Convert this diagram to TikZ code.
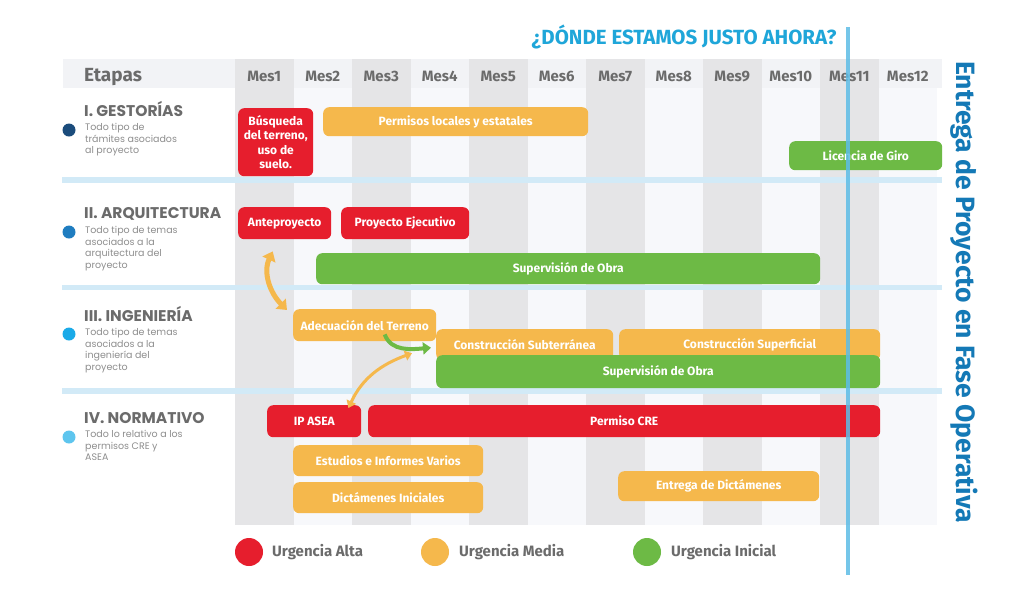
\documentclass[tikz,border=0pt]{standalone}
\usepackage{fontspec}
\setmainfont{Fira Sans}
\newfontfamily\headfont{Poppins}
\usetikzlibrary{arrows.meta}

\definecolor{urgAlta}{HTML}{E61E2D}
\definecolor{urgMedia}{HTML}{F5B84C}
\definecolor{urgInicial}{HTML}{6DBA45}
\definecolor{colGray}{HTML}{E5E5E7}
\definecolor{colLight}{HTML}{F7F8FB}
\definecolor{headBand}{HTML}{F2F3F6}
\definecolor{sepBlue}{HTML}{D2EAF7}
\definecolor{nowBlue}{HTML}{5DBDE6}
\definecolor{titleBlue}{HTML}{1FA6D9}
\definecolor{entregaBlue}{HTML}{1479B6}
\definecolor{txtGray}{HTML}{6B6B6B}
\definecolor{descGray}{HTML}{8E8E8E}
\definecolor{dotGest}{HTML}{1B4C7C}
\definecolor{dotArq}{HTML}{1F7DC0}
\definecolor{dotIng}{HTML}{1AAAE8}
\definecolor{dotNorm}{HTML}{5EC5EE}

\begin{document}
\begin{tikzpicture}[x=1pt, y=-1pt,
    bar/.style={anchor=north west, rounded corners=6pt, inner sep=0pt, text=white, align=center,
        font=\bfseries\fontsize{12}{14.5}\selectfont},
    mes/.style={anchor=base, inner sep=0pt, text=txtGray, font=\bfseries\fontsize{15}{15}\selectfont},
    head/.style={anchor=base west, inner sep=0pt, text=txtGray, font=\headfont\bfseries\fontsize{15.5}{16}\selectfont},
    desc/.style={anchor=north west, inner sep=0pt, align=left, text=descGray, font=\headfont\fontsize{9.5}{11.7}\selectfont},
    dotmark/.style={circle, inner sep=0pt, minimum size=13},
    legdot/.style={circle, inner sep=0pt, minimum size=28},
    legtext/.style={anchor=west, inner sep=0pt, text=txtGray, font=\bfseries\fontsize{15}{15}\selectfont}]
    \useasboundingbox[fill=white] (0,0) rectangle (1024,614);

    % background grid
    \fill[headBand] (63,59) rectangle (942,88);
    \foreach \i in {0,2,...,10}
        \fill[colGray] ({235+\i*58.5},59) rectangle ({235+(\i+1)*58.5},525);
    \foreach \i in {1,3,...,11}
        \fill[colLight] ({235+\i*58.5},88) rectangle ({235+(\i+1)*58.5},525);
    \fill[sepBlue] (62,177) rectangle (942,183);
    \fill[sepBlue] (62,285) rectangle (942,290);
    \fill[sepBlue] (62,388) rectangle (942,394);

    % headers
    \node[anchor=base west, inner sep=0pt, text=txtGray, font=\bfseries\fontsize{19}{19}\selectfont] (etapas) at (84,81) {Etapas};
    \foreach \i in {1,...,12}
        \node[mes] (mes\i) at ({235+(\i-0.5)*58.5},81) {Mes\i};
    \node[anchor=base, inner sep=0pt, text=titleBlue, font=\bfseries\fontsize{20.5}{20.5}\selectfont] (donde) at (684,44) {¿DÓNDE ESTAMOS JUSTO AHORA?};
    \node[rotate=-90, inner sep=0pt, text=entregaBlue, font=\bfseries\fontsize{26.5}{26.5}\selectfont] (entrega) at (964,292) {Entrega de Proyecto en Fase Operativa};

    % etapas
    \node[dotmark, fill=dotGest] (dgest) at (69,130) {};
    \node[head] (gest) at (84,116) {I. GESTORÍAS};
    \node[desc] (dscgest) at (85,123) {Todo tipo de\\trámites asociados\\al proyecto};
    \node[dotmark, fill=dotArq] (darq) at (69,232) {};
    \node[head] (arq) at (84,218) {II. ARQUITECTURA};
    \node[desc] (dscarq) at (85,226) {Todo tipo de temas\\asociados a la\\arquitectura del\\proyecto};
    \node[dotmark, fill=dotIng] (ding) at (69,334) {};
    \node[head] (ing) at (84,321) {III. INGENIERÍA};
    \node[desc] (dscing) at (85,328) {Todo tipo de temas\\asociados a la\\ingeniería del\\proyecto};
    \node[dotmark, fill=dotNorm] (dnorm) at (69,437) {};
    \node[head] (norm) at (84,423) {IV. NORMATIVO};
    \node[desc] (dscnorm) at (85,430) {Todo lo relativo a los\\permisos CRE y\\ASEA};

    % I. gestorias
    \node[bar, fill=urgAlta, minimum width=75, minimum height=68] (busqueda) at (238,108) {Búsqueda\\del terreno,\\uso de\\suelo.};
    \node[bar, fill=urgMedia, minimum width=265, minimum height=29] (permisos) at (323,107) {Permisos locales y estatales};
    \node[bar, fill=urgInicial, minimum width=153, minimum height=29] (licencia) at (789,141) {Licencia de Giro};

    % II. arquitectura
    \node[bar, fill=urgAlta, minimum width=93, minimum height=32] (anteproy) at (238,207) {Anteproyecto};
    \node[bar, fill=urgAlta, minimum width=128, minimum height=32] (proyejec) at (341,207) {Proyecto Ejecutivo};
    \node[bar, fill=urgInicial, minimum width=504, minimum height=31] (supervA) at (316,253) {Supervisión de Obra};

    % III. ingenieria
    \node[bar, fill=urgMedia, minimum width=143, minimum height=32] (adecuacion) at (293,309) {Adecuación del Terreno};
    \node[bar, fill=urgMedia, minimum width=177, minimum height=31] (subterranea) at (436,329) {Construcción Subterránea};
    \node[bar, fill=urgMedia, minimum width=261, minimum height=31] (superficial) at (619,329) {Construcción Superficial};
    \node[bar, fill=urgInicial, minimum width=444, minimum height=33] (supervB) at (436,355) {Supervisión de Obra};

    % IV. normativo
    \node[bar, fill=urgAlta, minimum width=94, minimum height=32] (ipasea) at (267,405) {IP ASEA};
    \node[bar, fill=urgAlta, minimum width=512, minimum height=32] (permisocre) at (368,405) {Permiso CRE};
    \node[bar, fill=urgMedia, minimum width=190, minimum height=31] (estudios) at (293,445) {Estudios e Informes Varios};
    \node[bar, fill=urgMedia, minimum width=190, minimum height=31] (dictini) at (293,482) {Dictámenes Iniciales};
    \node[bar, fill=urgMedia, minimum width=201, minimum height=30] (entregadict) at (618,471) {Entrega de Dictámenes};

    % flechas
    \draw[urgMedia, line width=5pt, {Triangle[length=9pt,width=14pt]}-{Triangle[length=9pt,width=14pt]}]
        ([xshift=-12pt,yshift=-12pt]anteproy.south) to[out=-115, in=135] ([xshift=-6pt,yshift=-1pt]adecuacion.north west);
    \draw[urgInicial, line width=4pt, -{Triangle[length=8pt,width=12pt]}]
        ([xshift=20pt,yshift=7pt]adecuacion.south) to[out=-70, in=185] ([xshift=-5pt,yshift=-3pt]subterranea.west);
    \draw[urgMedia, line width=3pt, {Triangle[length=7pt,width=10pt]}-{Triangle[length=7pt,width=10pt]}]
        ([xshift=-13pt,yshift=-3pt]ipasea.north east) to[out=65, in=200] ([xshift=-24pt,yshift=-8.5pt]subterranea.west);

    % ahora
    \draw[nowBlue, line width=4pt, opacity=0.85] (848,27) -- (848,575);

    % leyenda
    \node[legdot, fill=urgAlta] (legalta) at (249,552) {};
    \node[legtext] (txtalta) at (272,552) {Urgencia Alta};
    \node[legdot, fill=urgMedia] (legmedia) at (435,552) {};
    \node[legtext] (txtmedia) at (459,552) {Urgencia Media};
    \node[legdot, fill=urgInicial] (leginicial) at (647,552) {};
    \node[legtext] (txtinicial) at (671,552) {Urgencia Inicial};
\end{tikzpicture}
\end{document}
